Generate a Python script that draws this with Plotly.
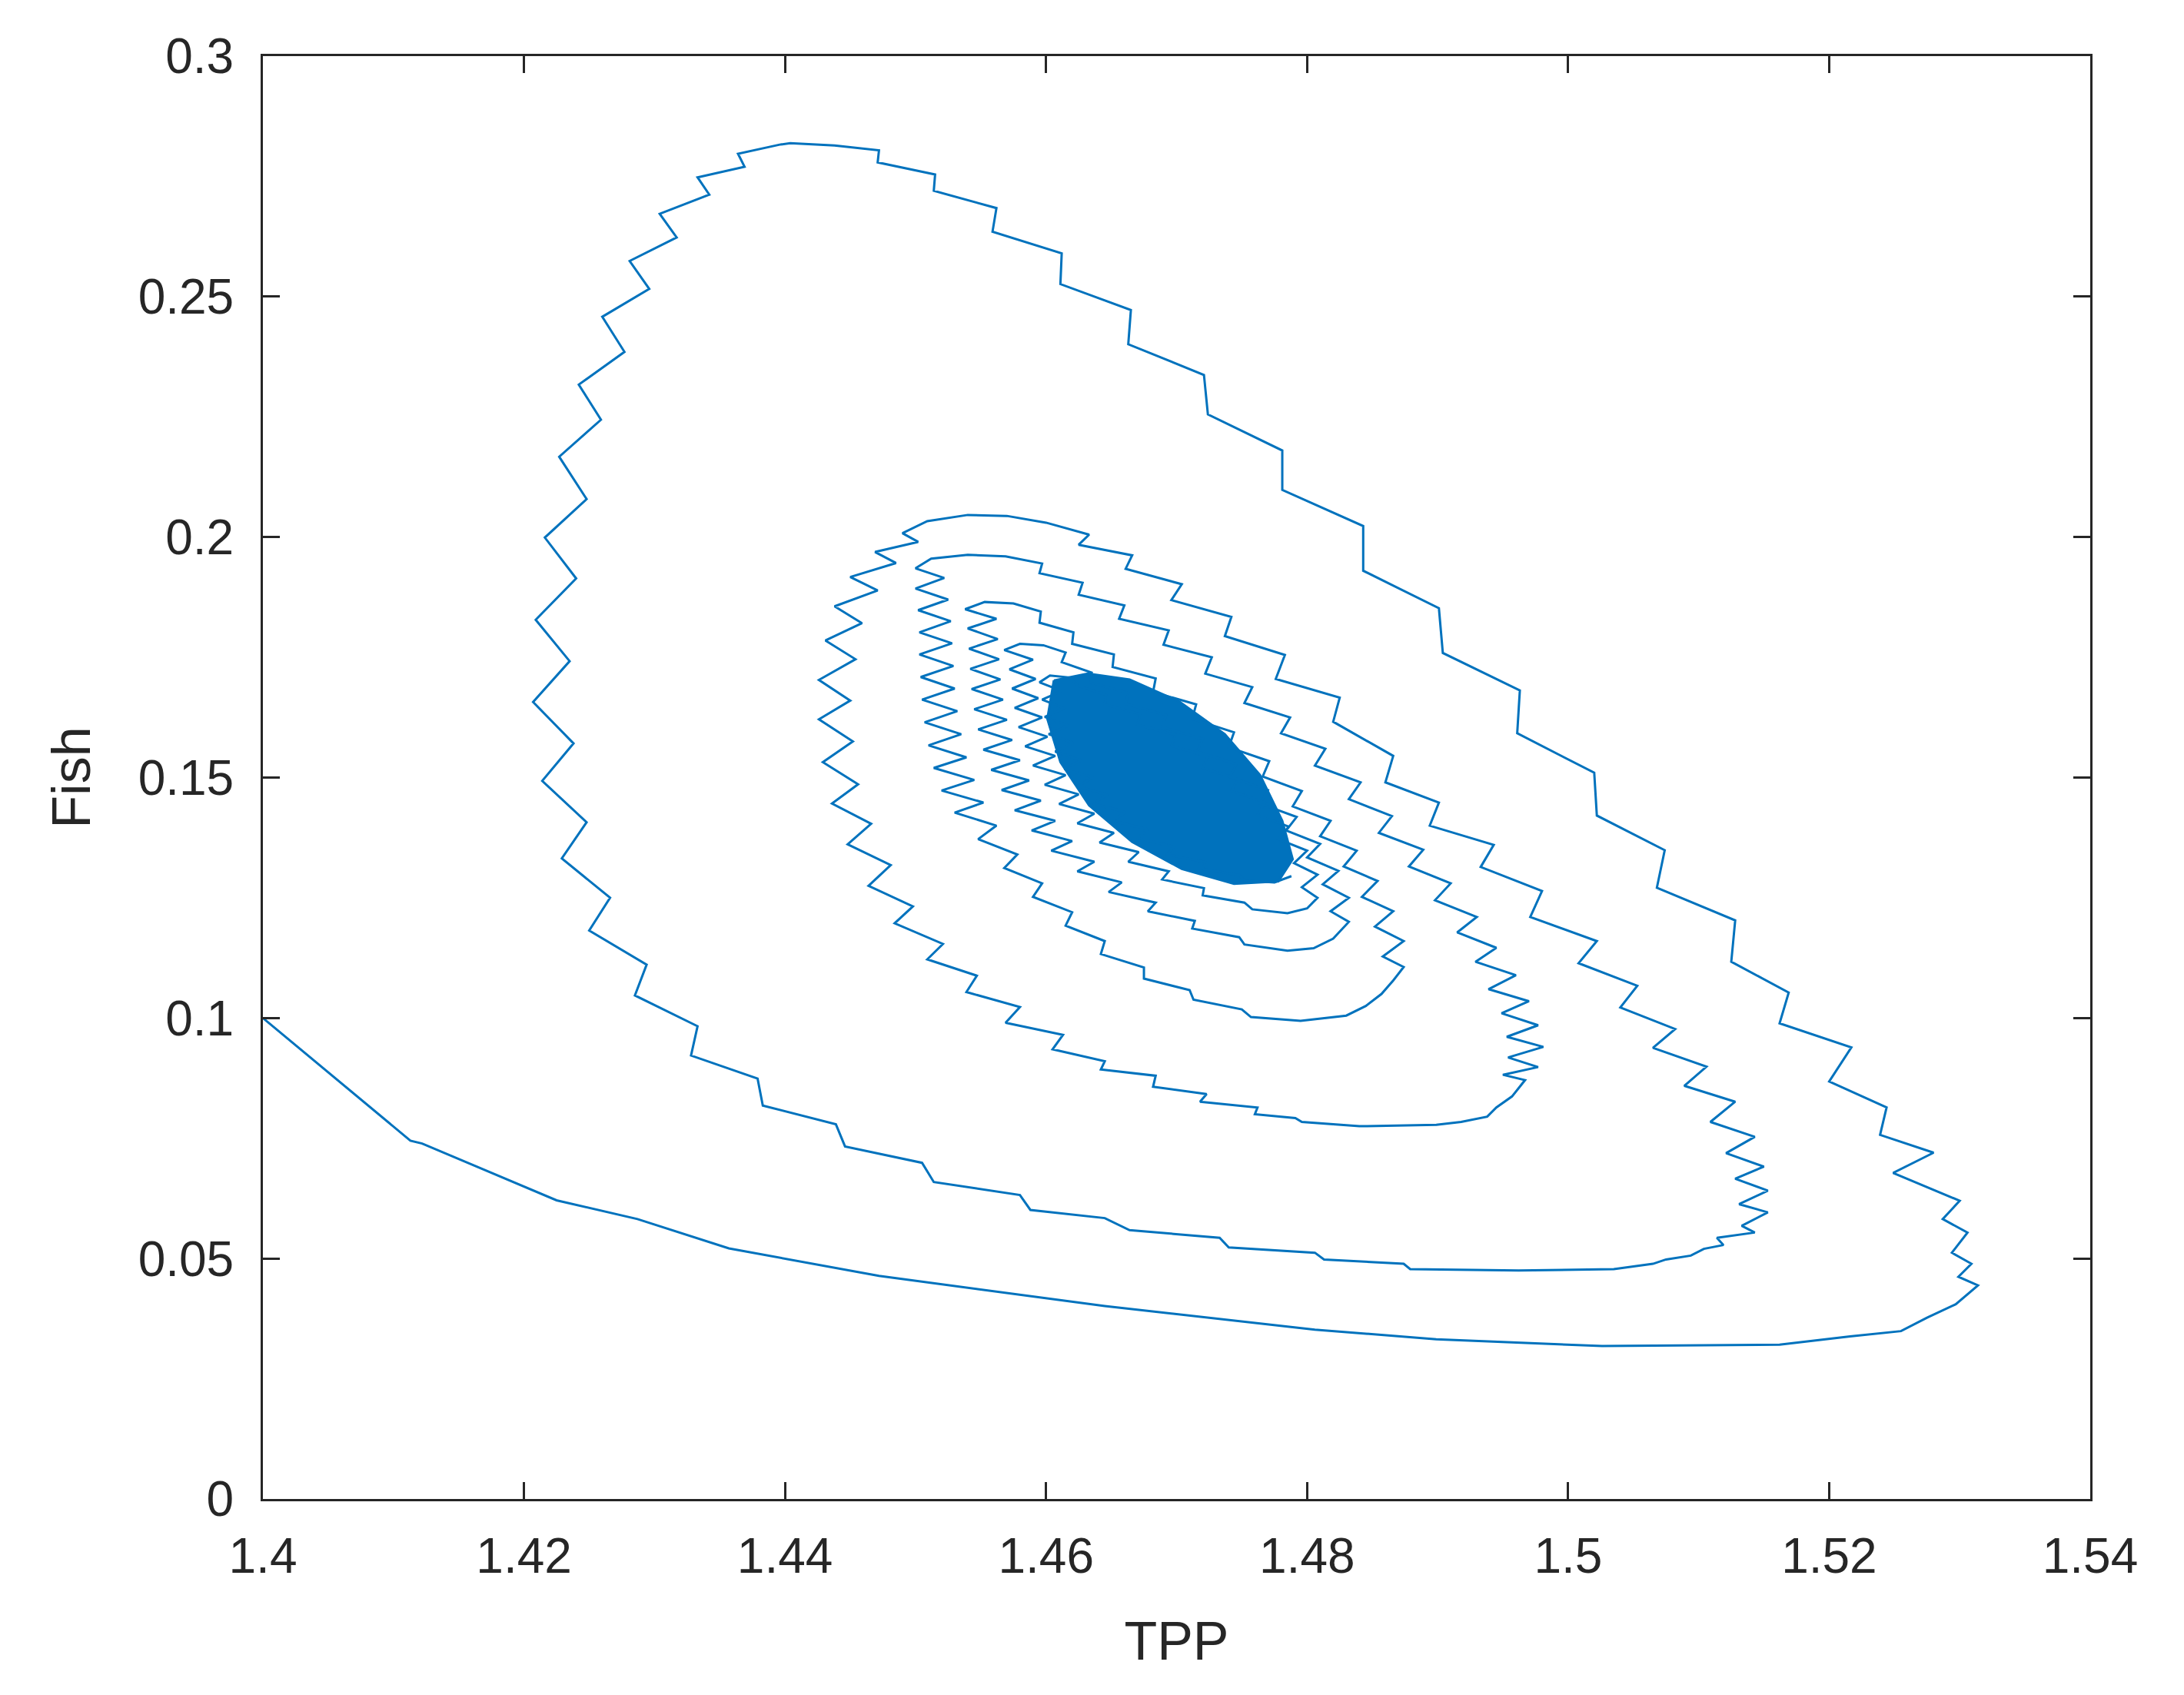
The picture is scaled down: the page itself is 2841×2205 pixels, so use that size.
import plotly.graph_objects as go

# trajectory, one list of (TPP, Fish) pairs per turn of the spiral
loop0 = [(1.4000, 0.1000), (1.4113, 0.0745), (1.4122, 0.0739), (1.4225, 0.0621), (1.4287, 0.0582),
         (1.4357, 0.0521), (1.4472, 0.0464), (1.4645, 0.0401), (1.4806, 0.0352), (1.4899, 0.0332),
         (1.5026, 0.0318), (1.5162, 0.0321), (1.5216, 0.0338), (1.5255, 0.0349), (1.5275, 0.0377),
         (1.5297, 0.0405), (1.5314, 0.0444)]

loop1 = [(1.5299, 0.0462), (1.5309, 0.0489), (1.5294, 0.0512), (1.5306, 0.0554), (1.5287, 0.0582),
         (1.5300, 0.0620), (1.5249, 0.0678), (1.5280, 0.0720), (1.5239, 0.0757), (1.5244, 0.0814),
         (1.5200, 0.0868), (1.5217, 0.0939), (1.5162, 0.0989), (1.5169, 0.1053), (1.5125, 0.1117),
         (1.5128, 0.1203), (1.5068, 0.1271), (1.5074, 0.1349), (1.5022, 0.1421), (1.5020, 0.1510),
         (1.4961, 0.1592), (1.4963, 0.1681), (1.4904, 0.1759), (1.4901, 0.1852), (1.4843, 0.1930),
         (1.4843, 0.2023), (1.4781, 0.2098), (1.4781, 0.2180), (1.4724, 0.2255), (1.4721, 0.2337),
         (1.4663, 0.2401), (1.4665, 0.2472), (1.4611, 0.2526), (1.4612, 0.2590), (1.4559, 0.2635),
         (1.4562, 0.2684), (1.4514, 0.2720), (1.4515, 0.2754), (1.4471, 0.2779), (1.4472, 0.2804),
         (1.4438, 0.2814), (1.4404, 0.2819), (1.4396, 0.2816), (1.4364, 0.2797), (1.4369, 0.2770),
         (1.4333, 0.2748), (1.4342, 0.2712), (1.4304, 0.2672), (1.4317, 0.2623), (1.4281, 0.2574),
         (1.4296, 0.2516), (1.4260, 0.2458), (1.4277, 0.2385), (1.4242, 0.2317), (1.4259, 0.2244),
         (1.4227, 0.2167), (1.4248, 0.2079), (1.4216, 0.1999), (1.4240, 0.1914), (1.4209, 0.1828),
         (1.4235, 0.1742), (1.4207, 0.1657), (1.4238, 0.1571), (1.4214, 0.1493), (1.4248, 0.1407),
         (1.4229, 0.1332), (1.4266, 0.1250), (1.4250, 0.1182), (1.4294, 0.1111), (1.4285, 0.1047),
         (1.4333, 0.0983), (1.4328, 0.0922), (1.4379, 0.0874), (1.4383, 0.0818), (1.4439, 0.0779),
         (1.4446, 0.0733), (1.4505, 0.0699), (1.4514, 0.0659), (1.4580, 0.0632), (1.4588, 0.0601),
         (1.4645, 0.0584), (1.4664, 0.0559), (1.4733, 0.0543), (1.4740, 0.0523), (1.4806, 0.0512),
         (1.4813, 0.0498), (1.4874, 0.0489), (1.4879, 0.0478), (1.4962, 0.0475), (1.5035, 0.0478),
         (1.5065, 0.0489), (1.5075, 0.0498), (1.5094, 0.0506), (1.5104, 0.0520), (1.5119, 0.0528),
         (1.5114, 0.0543), (1.5143, 0.0554), (1.5133, 0.0568), (1.5153, 0.0596)]

loop2 = [(1.5131, 0.0613), (1.5153, 0.0641), (1.5128, 0.0666), (1.5150, 0.0691), (1.5121, 0.0719),
         (1.5143, 0.0753), (1.5109, 0.0784), (1.5128, 0.0826), (1.5089, 0.0859), (1.5106, 0.0899),
         (1.5065, 0.0938), (1.5082, 0.0977), (1.5040, 0.1022), (1.5053, 0.1067), (1.5008, 0.1114),
         (1.5022, 0.1160), (1.4971, 0.1210), (1.4980, 0.1264), (1.4933, 0.1314), (1.4943, 0.1360),
         (1.4894, 0.1400), (1.4901, 0.1448), (1.4860, 0.1490), (1.4866, 0.1545), (1.4820, 0.1616),
         (1.4825, 0.1666), (1.4776, 0.1705), (1.4783, 0.1755), (1.4737, 0.1794), (1.4742, 0.1834),
         (1.4696, 0.1869), (1.4704, 0.1902), (1.4661, 0.1934), (1.4666, 0.1962), (1.4625, 0.1984),
         (1.4633, 0.2005), (1.4600, 0.2030), (1.4570, 0.2044), (1.4540, 0.2046), (1.4509, 0.2033),
         (1.4490, 0.2008), (1.4502, 0.1990), (1.4469, 0.1969), (1.4485, 0.1946), (1.4450, 0.1917),
         (1.4471, 0.1889), (1.4438, 0.1856), (1.4459, 0.1821), (1.4431, 0.1785), (1.4454, 0.1746),
         (1.4426, 0.1703), (1.4450, 0.1660), (1.4426, 0.1621), (1.4452, 0.1575), (1.4429, 0.1532),
         (1.4456, 0.1486), (1.4436, 0.1446), (1.4466, 0.1404), (1.4448, 0.1361), (1.4481, 0.1318),
         (1.4464, 0.1275), (1.4498, 0.1232), (1.4484, 0.1197), (1.4521, 0.1154), (1.4509, 0.1122),
         (1.4547, 0.1088), (1.4539, 0.1054), (1.4580, 0.1023), (1.4569, 0.0990), (1.4613, 0.0965),
         (1.4605, 0.0935), (1.4645, 0.0910), (1.4642, 0.0893), (1.4684, 0.0880), (1.4682, 0.0857),
         (1.4723, 0.0842), (1.4718, 0.0826), (1.4762, 0.0814), (1.4760, 0.0800), (1.4791, 0.0792),
         (1.4796, 0.0784), (1.4840, 0.0775), (1.4899, 0.0778), (1.4918, 0.0784), (1.4938, 0.0795),
         (1.4945, 0.0814), (1.4957, 0.0837), (1.4967, 0.0871)]

loop3 = [(1.4950, 0.0882), (1.4977, 0.0898), (1.4954, 0.0918), (1.4981, 0.0940), (1.4953, 0.0961),
         (1.4977, 0.0985), (1.4949, 0.1010), (1.4970, 0.1035), (1.4939, 0.1060), (1.4960, 0.1089),
         (1.4929, 0.1117), (1.4945, 0.1146), (1.4915, 0.1178), (1.4930, 0.1210), (1.4898, 0.1245),
         (1.4910, 0.1280), (1.4878, 0.1315), (1.4889, 0.1350), (1.4855, 0.1385), (1.4865, 0.1420),
         (1.4832, 0.1455), (1.4841, 0.1490), (1.4806, 0.1525), (1.4814, 0.1560), (1.4780, 0.1592),
         (1.4787, 0.1625), (1.4752, 0.1655), (1.4758, 0.1688), (1.4722, 0.1716), (1.4727, 0.1750),
         (1.4690, 0.1776), (1.4694, 0.1806), (1.4656, 0.1830), (1.4660, 0.1858), (1.4625, 0.1880),
         (1.4628, 0.1905), (1.4595, 0.1925), (1.4597, 0.1945), (1.4569, 0.1960), (1.4540, 0.1963),
         (1.4512, 0.1955), (1.4500, 0.1935), (1.4522, 0.1915), (1.4500, 0.1893), (1.4525, 0.1870),
         (1.4502, 0.1848), (1.4527, 0.1825), (1.4503, 0.1802), (1.4528, 0.1779), (1.4503, 0.1756),
         (1.4529, 0.1732), (1.4504, 0.1709), (1.4530, 0.1685), (1.4505, 0.1662), (1.4532, 0.1638),
         (1.4507, 0.1615), (1.4535, 0.1590), (1.4510, 0.1567), (1.4539, 0.1542), (1.4514, 0.1520),
         (1.4545, 0.1495), (1.4520, 0.1473), (1.4552, 0.1448), (1.4530, 0.1427), (1.4562, 0.1400),
         (1.4548, 0.1372), (1.4578, 0.1340), (1.4568, 0.1312), (1.4597, 0.1280), (1.4590, 0.1252),
         (1.4620, 0.1220), (1.4615, 0.1192), (1.4645, 0.1160), (1.4642, 0.1133), (1.4675, 0.1105),
         (1.4675, 0.1082), (1.4710, 0.1058), (1.4713, 0.1038), (1.4750, 0.1018), (1.4757, 0.1002),
         (1.4795, 0.0994), (1.4830, 0.1005), (1.4845, 0.1025), (1.4857, 0.1050), (1.4866, 0.1078),
         (1.4874, 0.1106)]

loop4 = [(1.4858, 0.1128), (1.4874, 0.1160), (1.4852, 0.1190), (1.4866, 0.1222), (1.4842, 0.1252),
         (1.4854, 0.1285), (1.4828, 0.1315), (1.4838, 0.1348), (1.4810, 0.1378), (1.4818, 0.1410),
         (1.4789, 0.1440), (1.4796, 0.1472), (1.4766, 0.1502), (1.4771, 0.1534), (1.4740, 0.1563),
         (1.4744, 0.1594), (1.4712, 0.1622), (1.4715, 0.1652), (1.4682, 0.1678), (1.4684, 0.1706),
         (1.4651, 0.1730), (1.4652, 0.1756), (1.4620, 0.1778), (1.4621, 0.1802), (1.4595, 0.1822),
         (1.4596, 0.1845), (1.4575, 0.1862), (1.4553, 0.1865), (1.4538, 0.1850), (1.4562, 0.1830),
         (1.4540, 0.1810), (1.4563, 0.1788), (1.4541, 0.1768), (1.4564, 0.1746), (1.4542, 0.1726),
         (1.4565, 0.1704), (1.4543, 0.1684), (1.4567, 0.1662), (1.4545, 0.1642), (1.4570, 0.1620),
         (1.4548, 0.1600), (1.4574, 0.1578), (1.4552, 0.1558), (1.4580, 0.1536), (1.4558, 0.1516),
         (1.4587, 0.1494), (1.4566, 0.1474), (1.4596, 0.1452), (1.4576, 0.1432), (1.4607, 0.1410),
         (1.4589, 0.1390), (1.4620, 0.1368), (1.4604, 0.1348), (1.4637, 0.1325), (1.4624, 0.1305),
         (1.4658, 0.1282), (1.4648, 0.1262), (1.4684, 0.1240), (1.4678, 0.1222), (1.4714, 0.1202),
         (1.4712, 0.1186), (1.4748, 0.1168), (1.4752, 0.1153), (1.4785, 0.1140), (1.4805, 0.1145),
         (1.4820, 0.1165), (1.4832, 0.1200)]

loop5 = [(1.4818, 0.1222), (1.4832, 0.1250), (1.4812, 0.1278), (1.4824, 0.1306), (1.4800, 0.1334),
         (1.4810, 0.1362), (1.4784, 0.1390), (1.4792, 0.1418), (1.4764, 0.1446), (1.4770, 0.1474),
         (1.4741, 0.1501), (1.4746, 0.1528), (1.4716, 0.1554), (1.4720, 0.1580), (1.4689, 0.1605),
         (1.4692, 0.1630), (1.4661, 0.1653), (1.4663, 0.1676), (1.4634, 0.1697), (1.4635, 0.1718),
         (1.4612, 0.1740), (1.4615, 0.1760), (1.4598, 0.1775), (1.4580, 0.1778), (1.4568, 0.1765),
         (1.4590, 0.1745), (1.4572, 0.1725), (1.4592, 0.1705), (1.4574, 0.1685), (1.4594, 0.1665),
         (1.4576, 0.1645), (1.4597, 0.1625), (1.4579, 0.1605), (1.4601, 0.1585), (1.4584, 0.1565),
         (1.4607, 0.1545), (1.4590, 0.1525), (1.4615, 0.1505), (1.4599, 0.1485), (1.4625, 0.1465),
         (1.4610, 0.1445), (1.4637, 0.1425), (1.4624, 0.1405), (1.4652, 0.1385), (1.4641, 0.1365),
         (1.4671, 0.1345), (1.4663, 0.1325), (1.4694, 0.1305), (1.4689, 0.1288), (1.4721, 0.1270),
         (1.4720, 0.1255), (1.4752, 0.1240), (1.4758, 0.1226), (1.4785, 0.1218), (1.4800, 0.1228),
         (1.4808, 0.1250)]

loop6 = [(1.4796, 0.1272), (1.4808, 0.1298), (1.4790, 0.1322), (1.4800, 0.1348), (1.4778, 0.1372),
         (1.4786, 0.1398), (1.4762, 0.1422), (1.4768, 0.1448), (1.4742, 0.1472), (1.4747, 0.1497),
         (1.4720, 0.1520), (1.4724, 0.1544), (1.4696, 0.1566), (1.4699, 0.1589), (1.4670, 0.1610),
         (1.4672, 0.1632), (1.4645, 0.1652), (1.4646, 0.1672), (1.4625, 0.1690), (1.4618, 0.1708),
         (1.4603, 0.1712), (1.4595, 0.1698), (1.4612, 0.1680), (1.4597, 0.1662), (1.4614, 0.1644),
         (1.4599, 0.1626), (1.4617, 0.1608), (1.4602, 0.1590), (1.4621, 0.1572), (1.4607, 0.1554),
         (1.4627, 0.1536), (1.4614, 0.1518), (1.4636, 0.1500), (1.4624, 0.1482), (1.4647, 0.1464),
         (1.4636, 0.1446), (1.4661, 0.1428), (1.4651, 0.1410), (1.4678, 0.1392), (1.4670, 0.1374),
         (1.4698, 0.1356), (1.4693, 0.1340), (1.4722, 0.1324), (1.4720, 0.1310), (1.4748, 0.1297),
         (1.4752, 0.1286), (1.4775, 0.1282), (1.4788, 0.1295)]

# the dense core where the remaining turns pile up
core = [(1.4606, 0.1702), (1.4632, 0.1716), (1.4664, 0.1704), (1.4702, 0.1658), (1.4737, 0.1590),
        (1.4764, 0.1505), (1.4781, 0.1410), (1.4789, 0.1330), (1.4778, 0.1284), (1.4744, 0.1279),
        (1.4704, 0.1310), (1.4666, 0.1366), (1.4633, 0.1442), (1.4611, 0.1532), (1.4601, 0.1622)]

x_ticks = [1.4, 1.42, 1.44, 1.46, 1.48, 1.5, 1.52, 1.54]
x_labels = ["1.4", "1.42", "1.44", "1.46", "1.48", "1.5", "1.52", "1.54"]
y_ticks = [0, 0.05, 0.1, 0.15, 0.2, 0.25, 0.3]
y_labels = ["0", "0.05", "0.1", "0.15", "0.2", "0.25", "0.3"]

path = loop0 + loop1 + loop2 + loop3 + loop4 + loop5 + loop6
tpp = [p[0] for p in path]
fish = [p[1] for p in path]

blue = "#0072BD"
ink = "#262626"
font = "Liberation Sans, Arial"

fig = go.Figure()
fig.add_trace(go.Scatter(
    x=[p[0] for p in core] + [core[0][0]], y=[p[1] for p in core] + [core[0][1]],
    mode="lines", fill="toself", fillcolor=blue, line=dict(color=blue, width=3),
    hoverinfo="skip", showlegend=False))
fig.add_trace(go.Scatter(x=tpp, y=fish, mode="lines",
                         line=dict(color=blue, width=3), showlegend=False))

axis_common = dict(showgrid=False, zeroline=False, showline=True, linecolor=ink,
                   linewidth=3, mirror="ticks", ticks="inside", ticklen=22,
                   tickwidth=3, tickcolor=ink,
                   tickfont=dict(family=font, size=64, color=ink))

fig.update_xaxes(range=[1.4, 1.54], tickvals=x_ticks, ticktext=x_labels,
                 ticklabelstandoff=16,
                 title=dict(text="TPP", standoff=52,
                            font=dict(family=font, size=70, color=ink)),
                 **axis_common)
fig.update_yaxes(range=[0, 0.3], tickvals=y_ticks, ticktext=y_labels,
                 ticklabelstandoff=22,
                 title=dict(text="Fish", standoff=40,
                            font=dict(family=font, size=70, color=ink)),
                 **axis_common)

fig.update_layout(width=2841, height=2205, autosize=False,
                  margin=dict(l=334, r=130, t=65, b=263),
                  plot_bgcolor="white", paper_bgcolor="white")

fig.write_html("out.html")
